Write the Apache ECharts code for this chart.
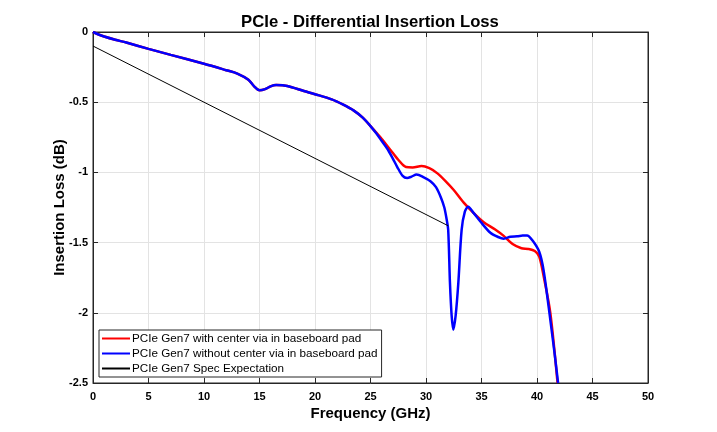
<!DOCTYPE html>
<html>
<head>
<meta charset="utf-8">
<script src="https://cdn.jsdelivr.net/npm/echarts@6/dist/echarts.min.js"></script>
<style>html,body{margin:0;padding:0;background:#fff}#c{width:717px;height:432px}</style>
</head>
<body>
<div id="c"></div>
<script>
const titleText = 'PCIe - Differential Insertion Loss';
const xName = 'Frequency (GHz)';
const yName = 'Insertion Loss (dB)';
const seriesNames = [
  'PCIe Gen7 with center via in baseboard pad',
  'PCIe Gen7 without center via in baseboard pad',
  'PCIe Gen7 Spec Expectation'
];
const xTicks = [0, 5, 10, 15, 20, 25, 30, 35, 40, 45, 50];
const yTicks = [0, -0.5, -1, -1.5, -2, -2.5];

// shared low-frequency part (both curves overlap)
const commonFreq = [0, 0.5, 1, 2, 3, 5, 7, 10, 12, 13, 14, 14.5, 15, 15.5, 16, 16.5, 17.5, 19, 20, 21.5, 22.5, 23.5, 24.3, 25];
const commonLoss = [0, -0.018, -0.032, -0.055, -0.075, -0.12, -0.163, -0.226, -0.272, -0.296, -0.34, -0.385, -0.415, -0.407, -0.387, -0.378, -0.384, -0.42, -0.443, -0.48, -0.516, -0.56, -0.61, -0.67];

const redFreq = [25.5, 26, 26.8, 27.5, 28.2, 28.8, 29.6, 30.3, 31, 31.8, 32.5, 33.4, 34.3, 35.2, 36.2, 37, 37.8, 38.6, 39.2, 39.8, 40.2, 40.6, 41.2, 41.85];
const redLoss = [-0.715, -0.76, -0.84, -0.91, -0.962, -0.965, -0.955, -0.97, -1.005, -1.065, -1.125, -1.215, -1.29, -1.355, -1.405, -1.452, -1.51, -1.54, -1.545, -1.56, -1.6, -1.74, -2.0, -2.5];

const blueFreq = [25.5, 26, 26.5, 27, 27.4, 27.9, 28.3, 28.7, 29.15, 29.8, 30.4, 30.9, 31.35, 31.65, 31.85, 32.0, 32.16, 32.31, 32.46, 32.67, 32.91, 33.21, 33.5, 33.8, 34.3, 34.9, 35.8, 36.5, 37, 37.6, 38.2, 38.7, 39.1, 39.6, 40.2, 40.6, 41.2, 41.6, 41.9];
const blueLoss = [-0.72, -0.775, -0.83, -0.9, -0.96, -1.025, -1.04, -1.03, -1.015, -1.035, -1.063, -1.105, -1.18, -1.25, -1.33, -1.41, -1.79, -2.02, -2.12, -2.02, -1.79, -1.41, -1.28, -1.245, -1.29, -1.35, -1.43, -1.46, -1.472, -1.458, -1.455, -1.45, -1.449, -1.485, -1.565, -1.7, -2.05, -2.3, -2.5];

const specFreq = [0, 32];
const specLoss = [-0.1, -1.38];

function pairs(xs, ys) { return xs.map((x, i) => [x, ys[i]]); }
const redData = pairs(commonFreq, commonLoss).concat(pairs(redFreq, redLoss));
const blueData = pairs(commonFreq, commonLoss).concat(pairs(blueFreq, blueLoss));
const specData = pairs(specFreq, specLoss);

const FONT = 'Liberation Sans, Arial, sans-serif';
const axisCol = '#262626';
const baseX = {
  type: 'value', min: xTicks[0], max: xTicks[xTicks.length - 1], interval: 5,
  axisLine: { show: true, onZero: false, lineStyle: { color: axisCol, width: 1 } },
  axisTick: { show: true, inside: true, length: 5, lineStyle: { color: axisCol } },
  splitLine: { show: false }
};
const baseY = {
  type: 'value', min: yTicks[yTicks.length - 1], max: yTicks[0], interval: 0.5,
  axisLine: { show: true, onZero: false, lineStyle: { color: axisCol, width: 1 } },
  axisTick: { show: true, inside: true, length: 5, lineStyle: { color: axisCol } },
  splitLine: { show: false }
};

const chart = echarts.init(document.getElementById('c'), null, { renderer: 'canvas' });
chart.setOption({
  animation: false,
  backgroundColor: '#ffffff',
  textStyle: { fontFamily: FONT },
  title: {
    text: titleText, left: 365, textAlign: 'center', top: 9,
    textStyle: { fontFamily: FONT, fontSize: 16.7, fontWeight: 'bold', color: '#000' }
  },
  grid: { left: 93, right: 69, top: 32, bottom: 49, containLabel: false, show: true, borderColor: axisCol, borderWidth: 1 },
  xAxis: [
    Object.assign({}, baseX, {
      position: 'bottom', name: xName, nameLocation: 'middle', nameGap: 23, nameMoveOverlap: false,
      nameTextStyle: { fontFamily: FONT, fontSize: 15, fontWeight: 'bold', color: '#000' },
      axisLabel: { show: true, fontFamily: FONT, fontSize: 11, fontWeight: 'bold', color: '#000', margin: 8 },
      splitLine: { show: true, lineStyle: { color: '#e3e3e3', width: 1 } }
    }),
    Object.assign({}, baseX, { position: 'top', axisLabel: { show: false } })
  ],
  yAxis: [
    Object.assign({}, baseY, {
      position: 'left', name: yName, nameLocation: 'middle', nameGap: 26, nameMoveOverlap: false,
      nameTextStyle: { fontFamily: FONT, fontSize: 15, fontWeight: 'bold', color: '#000' },
      axisLabel: { show: true, fontFamily: FONT, fontSize: 11, fontWeight: 'bold', color: '#000', margin: 5 },
      splitLine: { show: true, lineStyle: { color: '#e3e3e3', width: 1 } }
    }),
    Object.assign({}, baseY, { position: 'right', axisLabel: { show: false } })
  ],
  legend: {
    orient: 'vertical', left: 99, top: 330,
    backgroundColor: '#fff', borderColor: '#262626', borderWidth: 1, borderRadius: 0,
    padding: [2, 4, 2, 3], itemGap: 2, itemWidth: 28, itemHeight: 2,
    icon: 'rect',
    textStyle: { fontFamily: FONT, fontSize: 11.7, lineHeight: 13, color: '#000', padding: [0, 0, 0, -3] },
    data: [
      { name: seriesNames[0], itemStyle: { color: '#ff0000' } },
      { name: seriesNames[1], itemStyle: { color: '#0000ff' } },
      { name: seriesNames[2], itemStyle: { color: '#000000' } }
    ]
  },
  series: [
    { name: seriesNames[0], type: 'line', data: redData, showSymbol: false, symbol: 'none', smooth: 0.3,
      lineStyle: { color: '#ff0000', width: 2.5 }, itemStyle: { color: '#ff0000' }, z: 2 },
    { name: seriesNames[1], type: 'line', data: blueData, showSymbol: false, symbol: 'none', smooth: 0.3,
      lineStyle: { color: '#0000ff', width: 2.5 }, itemStyle: { color: '#0000ff' }, z: 3 },
    { name: seriesNames[2], type: 'line', data: specData, showSymbol: false, symbol: 'none',
      lineStyle: { color: '#000000', width: 1 }, itemStyle: { color: '#000000' }, z: 4 }
  ]
});
</script>
</body>
</html>
